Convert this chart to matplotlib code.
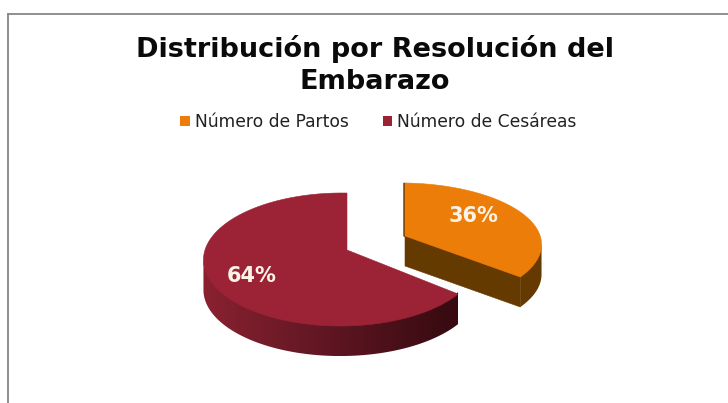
#!/usr/bin/env python3
"""
Pie chart in fake 3D: birth outcome split, Spanish labels
"""

import numpy as np
import matplotlib
matplotlib.use("Agg")
import matplotlib.pyplot as plt
from matplotlib.colors import LinearSegmentedColormap
from matplotlib.patches import Patch, Polygon

title = "Distribución por Resolución del\nEmbarazo"
labels = ["Número de Partos", "Número de Cesáreas"]
shares = [36, 64]
top_colors = ["#ED7D09", "#9B2335"]

# perspective of the tilted disc
K_DEPTH = 1 / 7
K_SIDE = 0.043
DEPTH = 30


def project(apex, scale, theta):
    u = np.sin(theta)
    v = np.cos(theta)
    w = 1 + K_DEPTH * v + K_SIDE * u
    return apex[0] + scale[0] * u / w, apex[1] - scale[1] * v / w


def draw_wedge(ax, apex, scale, start, stop, top, wall_colors, cut=None):
    thetas = np.linspace(start, stop, 240)
    xs, ys = project(apex, scale, thetas)

    # only the rim from its widest point onward faces the viewer
    first = np.argmin(xs) if start > stop else np.argmax(xs)
    fx, fy = xs[first:], ys[first:]

    # outer wall: gradient image clipped to the band under the rim
    wall = Polygon(np.c_[np.r_[fx, fx[::-1]], np.r_[fy - 2, fy[::-1] + DEPTH]],
                   closed=True, fc="none", ec="none", transform=ax.transData)
    ax.add_patch(wall)
    cmap = LinearSegmentedColormap.from_list("wall", wall_colors)
    im = ax.imshow(np.linspace(0, 1, 256)[None, :], cmap=cmap, aspect="auto", zorder=2,
                   extent=[fx.min(), fx.max(), fy.max() + DEPTH, fy.min() - 2])
    im.set_clip_path(wall)

    if cut is not None:
        # flat face of the cut, from the apex to the last rim point
        ex, ey = xs[-1], ys[-1]
        face = np.c_[[apex[0], ex, ex, apex[0]], [apex[1] - 2, ey - 2, ey + DEPTH, apex[1] + DEPTH]]
        ax.add_patch(Polygon(face, closed=True, fc=cut, ec=cut, lw=0.4, zorder=3))
        # thin sliver on the other cut edge
        sliver = np.c_[[xs[0] - 1.5, xs[0], apex[0], apex[0] - 1.5],
                       [ys[0], ys[0], apex[1] + 1, apex[1]]]
        ax.add_patch(Polygon(sliver, closed=True, fc=cut, ec=cut, lw=0.3, zorder=3))

    outline = np.c_[np.r_[apex[0], xs], np.r_[apex[1], ys]]
    ax.add_patch(Polygon(outline, closed=True, fc=top, ec=top, lw=0.4, zorder=4))


fig = plt.figure(figsize=(7.28, 4.03), dpi=100)
ax = fig.add_axes([0, 0, 1, 1])
ax.axis("off")

# chart frame, open on the right and at the bottom of the canvas
ax.plot([8, 8], [403, 14], color="#868686", lw=1.3, zorder=1)
ax.plot([8, 728], [14, 14], color="#868686", lw=1.3, zorder=1)

ax.text(375, 65, title, ha="center", va="center", fontsize=19.5, fontweight="bold",
        color="#0a0a0a", linespacing=1.28, family="DejaVu Sans")

# angles run clockwise from twelve o'clock
fractions = np.array(shares) / sum(shares)
cut_angle = 2 * np.pi * fractions[0]

draw_wedge(ax, (347, 250), (135.9, 65.1), 2 * np.pi, cut_angle, top_colors[1],
           ["#8A2131", "#5E1622", "#360A10"])
draw_wedge(ax, (405, 236), (141, 60.6), 0, cut_angle, top_colors[0],
           ["#653A00", "#653A00"], cut="#653A00")

ax.text(474, 216, f"{shares[0]}%", ha="center", va="center", color="#FBF3E6",
        fontsize=15, fontweight="bold", zorder=6)
ax.text(252, 276, f"{shares[1]}%", ha="center", va="center", color="#FBF3E6",
        fontsize=15, fontweight="bold", zorder=6)

handles = [Patch(fc=c, ec="none") for c in top_colors]
ax.legend(handles, labels, ncol=2, loc="center", bbox_to_anchor=(0.52, 0.698),
          bbox_transform=fig.transFigure, frameon=False, fontsize=12.3,
          handlelength=0.55, handleheight=0.55, handletextpad=0.3, columnspacing=2.0,
          labelcolor="#222222")

# imshow resets the limits, so the pixel-sized data range goes last
ax.set_xlim(0, 728)
ax.set_ylim(403, 0)

fig.savefig("out.png", dpi=100, facecolor="white")
